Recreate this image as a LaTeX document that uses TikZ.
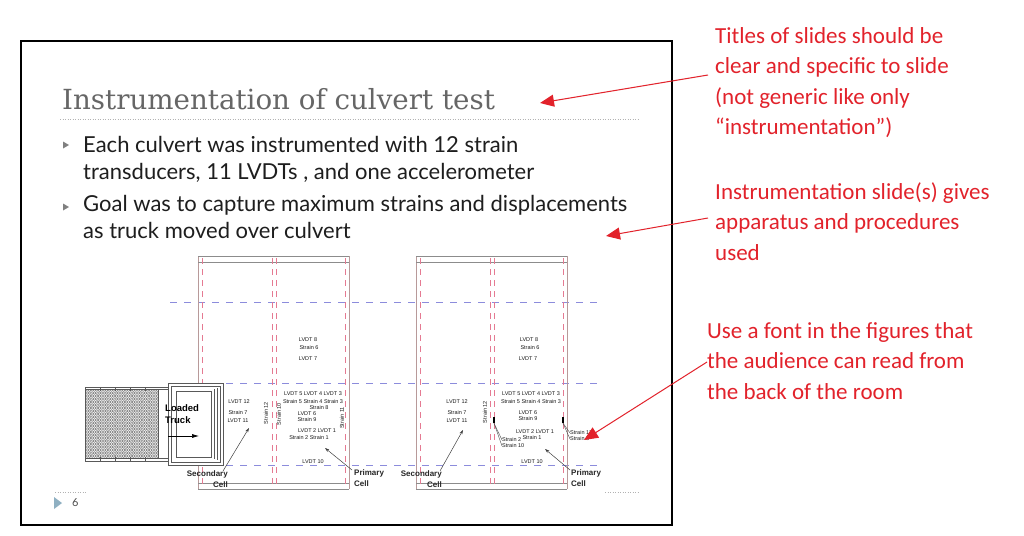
\documentclass[tikz,border=0pt]{standalone}
\usepackage{fontspec}
\newfontfamily\bodyf{Lato}
\newfontfamily\notef{Carlito}
\newfontfamily\diagf{Liberation Sans}
\newfontfamily\titlef{DejaVu Serif}
\usetikzlibrary{arrows.meta}
\definecolor{annred}{HTML}{E2222B}
\definecolor{titlegray}{HTML}{666666}
\definecolor{bodyblack}{HTML}{1E1E1E}
\definecolor{dashblue}{HTML}{8C8CDC}
\definecolor{dashred}{HTML}{E57A92}
\definecolor{culvline}{HTML}{B89A9A}
\definecolor{bulletgray}{HTML}{808080}
\definecolor{numblue}{HTML}{8FB0C2}
\begin{document}
\begin{tikzpicture}[x=1pt,y=-1pt,
  note/.style={font=\notef\fontsize{23}{30.5}\selectfont, text=annred, align=left, anchor=north west, inner sep=0pt},
  redarrow/.style={draw=annred, line width=1pt, -{Triangle[length=14pt,width=12pt]}},
  bodytext/.style={font=\bodyf\fontsize{22}{26}\selectfont, text=bodyblack, anchor=base west, inner sep=0pt},
  lab/.style={font=\diagf\fontsize{5.5}{6}\selectfont, text=black!90, inner sep=0pt},
  rlab/.style={lab, rotate=90},
  celllab/.style={font=\diagf\bfseries\fontsize{8}{11}\selectfont, text=black!85, inner sep=0pt},
  leader/.style={draw=black!75, line width=0.5pt, -{Stealth[length=4.5pt,width=3pt]}},
  thinlead/.style={draw=black!70, line width=0.4pt},
  bdash/.style={draw=dashblue, line width=0.8pt, dash pattern=on 7pt off 7pt},
  rdash/.style={draw=dashred, line width=0.6pt, dash pattern=on 6pt off 5pt},
  culv/.style={draw=culvline, line width=0.6pt},
  culvh/.style={draw=black!45, line width=0.5pt},
  truckline/.style={draw=black!65, line width=0.5pt},
  hatchc/.style={draw=black!70, line width=0.35pt},
  bulletmark/.style={fill=bulletgray},
  gauge/.style={fill=black, minimum width=2.5pt, minimum height=6pt, inner sep=0pt},
  dotline/.style={draw=gray!60, line width=0.6pt, dash pattern=on 1pt off 1.5pt},
]
\useasboundingbox (0,0) rectangle (1024,535);
\fill[white] (0,0) rectangle (1024,535);

% slide frame
\draw[line width=2pt] (21,41) rectangle (672,525);

% title
\node[font=\titlef\fontsize{27.7}{30}\selectfont, text=titlegray, anchor=base west, inner sep=0pt] (title) at (62,109) {Instrumentation of culvert test};
\draw[dotline] (60,119) -- (640,119);

% bullets
\fill[bulletmark] (63,141.5) -- (69,145) -- (63,148.5) -- cycle;
\fill[bulletmark] (63,203.5) -- (69,207) -- (63,210.5) -- cycle;
\node[bodytext] (b1a) at (83,152) {Each culvert was instrumented with 12 strain};
\node[bodytext] (b1b) at (83,179) {transducers, 11 LVDTs , and one accelerometer};
\node[bodytext] (b2a) at (83,211) {Goal was to capture maximum strains and displacements};
\node[bodytext] (b2b) at (83,238) {as truck moved over culvert};

% blue dashed lines
\foreach \yy in {302,383,465} \draw[bdash] (170,\yy) -- (598,\yy);

% culverts
\foreach \ox in {198,416}{
  \draw[culv] (\ox,256) -- (\ox,489);
  \draw[culv] (\ox+151,256) -- (\ox+151,489);
  \draw[culvh] (\ox,256) -- (\ox+151,256) (\ox,262) -- (\ox+151,262)
               (\ox,483) -- (\ox+151,483) (\ox,489) -- (\ox+151,489);
  \foreach \dx in {4,74,78,147} \draw[rdash] (\ox+\dx,258) -- (\ox+\dx,488);
}

% truck
\draw[truckline] (85,387) rectangle (168,461);
\draw[truckline] (85,389.5) -- (168,389.5) (85,458.5) -- (168,458.5);
\begin{scope}
\clip (86,390) rectangle (158,458);
\foreach \r in {0,...,23}{
  \pgfmathsetmacro\rowy{390+\r*3}
  \pgfmathsetmacro\rowoff{mod(\r,2)*1.7}
  \foreach \c in {0,...,21}{
    \draw[hatchc] ({86+\rowoff+\c*3.4},\rowy) circle (1.4);
  }
}
\end{scope}
\draw[truckline] (158,389.5) -- (158,458.5);
\foreach \tx in {100,115,130,145}{
  \draw[truckline] (\tx,387) -- (\tx,391) (\tx,457) -- (\tx,461);
}
\fill[white] (168,383) rectangle (223,465);
\draw[truckline] (168,383) rectangle (223,465);
\draw[truckline] (171,386) rectangle (220,462);
\draw[truckline] (176,391) rectangle (211,457);
\draw[truckline] (214,389) -- (214,459) (217,388) -- (217,460);
\node[font=\diagf\bfseries\fontsize{9.5}{12}\selectfont, align=left, anchor=north west, inner sep=0pt] (truck) at (165,404) {Loaded\\Truck};
\coordinate (ta) at (168,436);
\coordinate (tb) at (199,436);
\draw[draw=black, line width=0.6pt, -{Latex[length=7pt,width=4pt]}] (ta) -- (tb);

% left culvert labels
\node[lab] (la1) at (308,340) {LVDT 8};
\node[lab] (la2) at (309,347.5) {Strain 6};
\node[lab] (la3) at (308,359) {LVDT 7};
\node[lab] (la4) at (313,394) {LVDT 5 LVDT 4 LVDT 3};
\node[lab] (la5) at (313,401.5) {Strain 5 Strain 4 Strain 3};
\node[lab] (la6) at (319,408) {Strain 8};
\node[lab] (la7) at (307,414) {LVDT 6};
\node[lab] (la8) at (307,420) {Strain 9};
\node[lab] (la9) at (317,431) {LVDT 2 LVDT 1};
\node[lab] (la10) at (309,438) {Strain 2 Strain 1};
\node[lab] (la11) at (313,462) {LVDT 10};
\node[lab] (la12) at (239,402) {LVDT 12};
\node[lab] (la13) at (238,413) {Strain 7};
\node[lab] (la14) at (238,420.5) {LVDT 11};
\node[rlab] (la15) at (266,413) {Strain 12};
\node[rlab] (la16) at (279,414) {Strain 10};
\node[rlab] (la17) at (342,418) {Strain 11};

% right culvert labels
\node[lab] (ra1) at (529,340) {LVDT 8};
\node[lab] (ra2) at (530,347.5) {Strain 6};
\node[lab] (ra3) at (528,359) {LVDT 7};
\node[lab] (ra4) at (531,394) {LVDT 5 LVDT 4 LVDT 3};
\node[lab] (ra5) at (531,401.5) {Strain 5 Strain 4 Strain 3};
\node[lab] (ra7) at (528,413) {LVDT 6};
\node[lab] (ra8) at (528,419) {Strain 9};
\node[lab] (ra9) at (535,432) {LVDT 2 LVDT 1};
\node[lab] (ra10) at (532,438) {Strain 1};
\node[lab] (ra11) at (532,462) {LVDT 10};
\node[lab] (ra12) at (457,402) {LVDT 12};
\node[lab] (ra13) at (457,413) {Strain 7};
\node[lab] (ra14) at (457,421) {LVDT 11};
\node[rlab] (ra15) at (485,412) {Strain 12};
\node[lab, anchor=west] (rs2) at (502,440) {Strain 2};
\node[lab, anchor=west] (rs10) at (502,446) {Strain 10};
\node[lab, anchor=west] (rs11) at (570,433) {Strain 11};
\node[lab, anchor=west] (rs8) at (570,439) {Strain 8};
\node[gauge] (g1) at (494,420) {};
\node[gauge] (g2) at (563,420) {};
\draw[thinlead] (g1.south) -- (rs2.west);
\draw[thinlead] (g1.south) -- (rs10.west);
\draw[thinlead] (g2.south) -- (rs11.west);
\draw[thinlead] (g2.south) -- (rs8.west);

% cell labels and leaders
\node[celllab, align=right, anchor=north east] (secL) at (228,470) {Secondary\\Cell};
\node[celllab, align=left, anchor=north west] (priL) at (354,469) {Primary\\Cell};
\node[celllab, align=right, anchor=north east] (secR) at (442,470) {Secondary\\Cell};
\node[celllab, align=left, anchor=north west] (priR) at (571,469) {Primary\\Cell};
\coordinate (csL) at (249,428);
\coordinate (cpL) at (325,448);
\coordinate (csR) at (463,430);
\coordinate (cpR) at (545,449);
\draw[leader] ([xshift=-5pt,yshift=-1pt]secL.north east) -- (csL);
\draw[leader] ([xshift=-2pt,yshift=-1pt]priL.north west) -- (cpL);
\draw[leader] ([xshift=-2pt,yshift=-1pt]secR.north east) -- (csR);
\draw[leader] ([xshift=-1pt,yshift=-1pt]priR.north west) -- (cpR);

% page number
\fill[numblue] (54,497) -- (62,503) -- (54,509) -- cycle;
\node[font=\bodyf\fontsize{11}{12}\selectfont, text=black!70, anchor=west, inner sep=0pt] (pnum) at (72,503) {6};
\draw[dotline] (55,492) -- (86,492);
\draw[dotline] (605,492) -- (640,492);

% annotations
\node[note] (n1) at (715,27) {Titles of slides should be\\clear and specific to slide\\(not generic like only\\“instrumentation”)};
\node[note] (n2) at (715,182) {Instrumentation slide(s) gives\\apparatus and procedures\\used};
\node[note] (n3) at (707,322) {Use a font in the figures that\\the audience can read from\\the back of the room};
\coordinate (a1s) at (708,75);
\coordinate (a1e) at (540,103);
\coordinate (a2s) at (708,218);
\coordinate (a2e) at (606,236);
\coordinate (a3s) at (707,362);
\coordinate (a3e) at (584,440);
\draw[redarrow] (a1s) -- (a1e);
\draw[redarrow] (a2s) -- (a2e);
\draw[redarrow] (a3s) -- (a3e);
\end{tikzpicture}
\end{document}
